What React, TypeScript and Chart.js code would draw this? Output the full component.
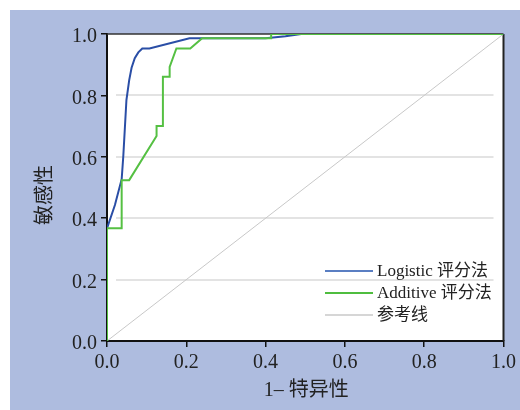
import React, { useEffect, useRef } from "react";
import { Chart, registerables } from "chart.js";

Chart.register(...registerables);

const logisticX = [0, 0, 0.02, 0.037, 0.041, 0.049, 0.056, 0.062, 0.07, 0.079, 0.089, 0.107, 0.208, 0.24, 0.4, 0.45, 0.49, 1];
const logisticY = [0, 0.367, 0.443, 0.527, 0.6, 0.785, 0.85, 0.89, 0.921, 0.94, 0.953, 0.953, 0.986, 0.986, 0.986, 0.993, 1, 1];

const additiveX = [0, 0, 0.037, 0.037, 0.056, 0.125, 0.125, 0.141, 0.141, 0.158, 0.158, 0.175, 0.21, 0.24, 0.414, 0.414, 1];
const additiveY = [0, 0.367, 0.367, 0.524, 0.524, 0.668, 0.7, 0.7, 0.861, 0.861, 0.893, 0.953, 0.953, 0.986, 0.986, 1, 1];

const refX = [0, 1];
const refY = [0, 1];

const seriesNames = ["Logistic 评分法", "Additive 评分法", "参考线"];
const gridValues = [0.2, 0.4, 0.6, 0.8];
const xTitle = "1– 特异性";
const yTitle = "敏感性";

const FONT = '"Liberation Serif", "Noto Sans CJK SC", serif';
const CJK = '"Liberation Serif", "Noto Sans CJK SC", sans-serif';

const toPts = (xs: number[], ys: number[]) => xs.map((x, i) => ({ x, y: ys[i] }));

const decorPlugin = {
  id: "decor",
  beforeDraw(chart: any) {
    const { ctx, chartArea: a } = chart;
    ctx.save();
    ctx.fillStyle = "#ffffff";
    ctx.fillRect(0, 0, chart.width, chart.height);
    ctx.fillStyle = "#aebcdf";
    ctx.fillRect(10, 10, chart.width - 10, chart.height - 10);
    ctx.fillStyle = "#ffffff";
    ctx.fillRect(a.left, a.top, a.right - a.left, a.bottom - a.top);
    const ys = chart.scales.y;
    ctx.strokeStyle = "#e3e3e3";
    ctx.lineWidth = 2;
    gridValues.forEach((v) => {
      const py = Math.round(ys.getPixelForValue(v));
      ctx.beginPath();
      ctx.moveTo(a.left + 9, py);
      ctx.lineTo(a.right - 10, py);
      ctx.stroke();
    });
    ctx.restore();
  },
  beforeDatasetsDraw(chart: any) {
    const { ctx, chartArea: a } = chart;
    ctx.save();
    ctx.strokeStyle = "#333";
    ctx.lineWidth = 1.5;
    ctx.beginPath();
    ctx.moveTo(a.left, a.top);
    ctx.lineTo(a.right, a.top);
    ctx.stroke();
    ctx.lineWidth = 2;
    ctx.strokeStyle = "#222";
    ctx.beginPath();
    ctx.moveTo(a.right, a.top);
    ctx.lineTo(a.right, a.bottom);
    ctx.stroke();
    ctx.restore();
  },
  afterDraw(chart: any) {
    const { ctx, chartArea: a } = chart;
    ctx.save();
    const legendColors = ["#5a7ec2", "#4fbd3f", "#c8c8c8"];
    const legendWidths = [2, 2, 1.5];
    const rowY = [271, 293, 315];
    ctx.font = `17px ${FONT}`;
    ctx.textBaseline = "middle";
    ctx.textAlign = "left";
    seriesNames.forEach((n, i) => {
      ctx.strokeStyle = legendColors[i];
      ctx.lineWidth = legendWidths[i];
      ctx.beginPath();
      ctx.moveTo(325, rowY[i]);
      ctx.lineTo(373, rowY[i]);
      ctx.stroke();
      ctx.fillStyle = "#222";
      ctx.fillText(n, 377, rowY[i] + 1);
    });
    ctx.font = `20px ${CJK}`;
    ctx.fillStyle = "#222";
    ctx.textAlign = "center";
    ctx.textBaseline = "middle";
    ctx.fillText(xTitle, (a.left + a.right) / 2 + 1, 391);
    ctx.translate(46, 195);
    ctx.rotate(-Math.PI / 2);
    ctx.fillText(yTitle, 0, 0);
    ctx.restore();
  },
};

export default function App() {
  const ref = useRef<HTMLCanvasElement | null>(null);
  useEffect(() => {
    document.body.style.margin = "0";
    const c = ref.current;
    if (!c) return;
    const chart = new Chart(c, {
      type: "line",
      data: {
        datasets: [
          {
            label: seriesNames[0],
            data: toPts(logisticX, logisticY),
            borderColor: "#2a4ea6",
            borderWidth: 2,
            pointRadius: 0,
            tension: 0,
            order: 2,
          },
          {
            label: seriesNames[1],
            data: toPts(additiveX, additiveY),
            borderColor: "#55c043",
            borderWidth: 2,
            pointRadius: 0,
            tension: 0,
            order: 1,
          },
          {
            label: seriesNames[2],
            data: toPts(refX, refY),
            borderColor: "#c8c8c8",
            borderWidth: 1,
            pointRadius: 0,
            tension: 0,
            order: 3,
          },
        ],
      },
      options: {
        responsive: false,
        animation: false,
        devicePixelRatio: 1,
        layout: { padding: { left: 0, top: 34, right: 14, bottom: 0 } },
        plugins: { legend: { display: false }, tooltip: { enabled: false } },
        scales: {
          x: {
            type: "linear",
            min: 0,
            max: 1,
            afterFit: (s: any) => {
              s.height = 69;
            },
            ticks: {
              stepSize: 0.2,
              padding: 4,
              color: "#222",
              font: { family: FONT, size: 20 },
              maxRotation: 0,
              callback: (v: any) => Number(v).toFixed(1),
            },
            grid: { drawOnChartArea: false, drawTicks: true, tickLength: 6, color: "#111", lineWidth: 1.5 },
            border: { display: true, color: "#111", width: 2 },
          },
          y: {
            type: "linear",
            min: 0,
            max: 1,
            afterFit: (s: any) => {
              s.width = 107;
            },
            ticks: {
              stepSize: 0.2,
              padding: 4,
              color: "#222",
              labelOffset: 3,
              font: { family: FONT, size: 20 },
              callback: (v: any) => Number(v).toFixed(1),
            },
            grid: { drawOnChartArea: false, drawTicks: true, tickLength: 6, color: "#111", lineWidth: 1.5 },
            border: { display: true, color: "#111", width: 2 },
          },
        },
      },
      plugins: [decorPlugin],
    } as any);
    return () => chart.destroy();
  }, []);
  return (
    <div style={{ position: "absolute", left: 0, top: 0, width: 520, height: 410 }}>
      <canvas ref={ref} width={520} height={410} style={{ display: "block", width: 520, height: 410 }} />
    </div>
  );
}
